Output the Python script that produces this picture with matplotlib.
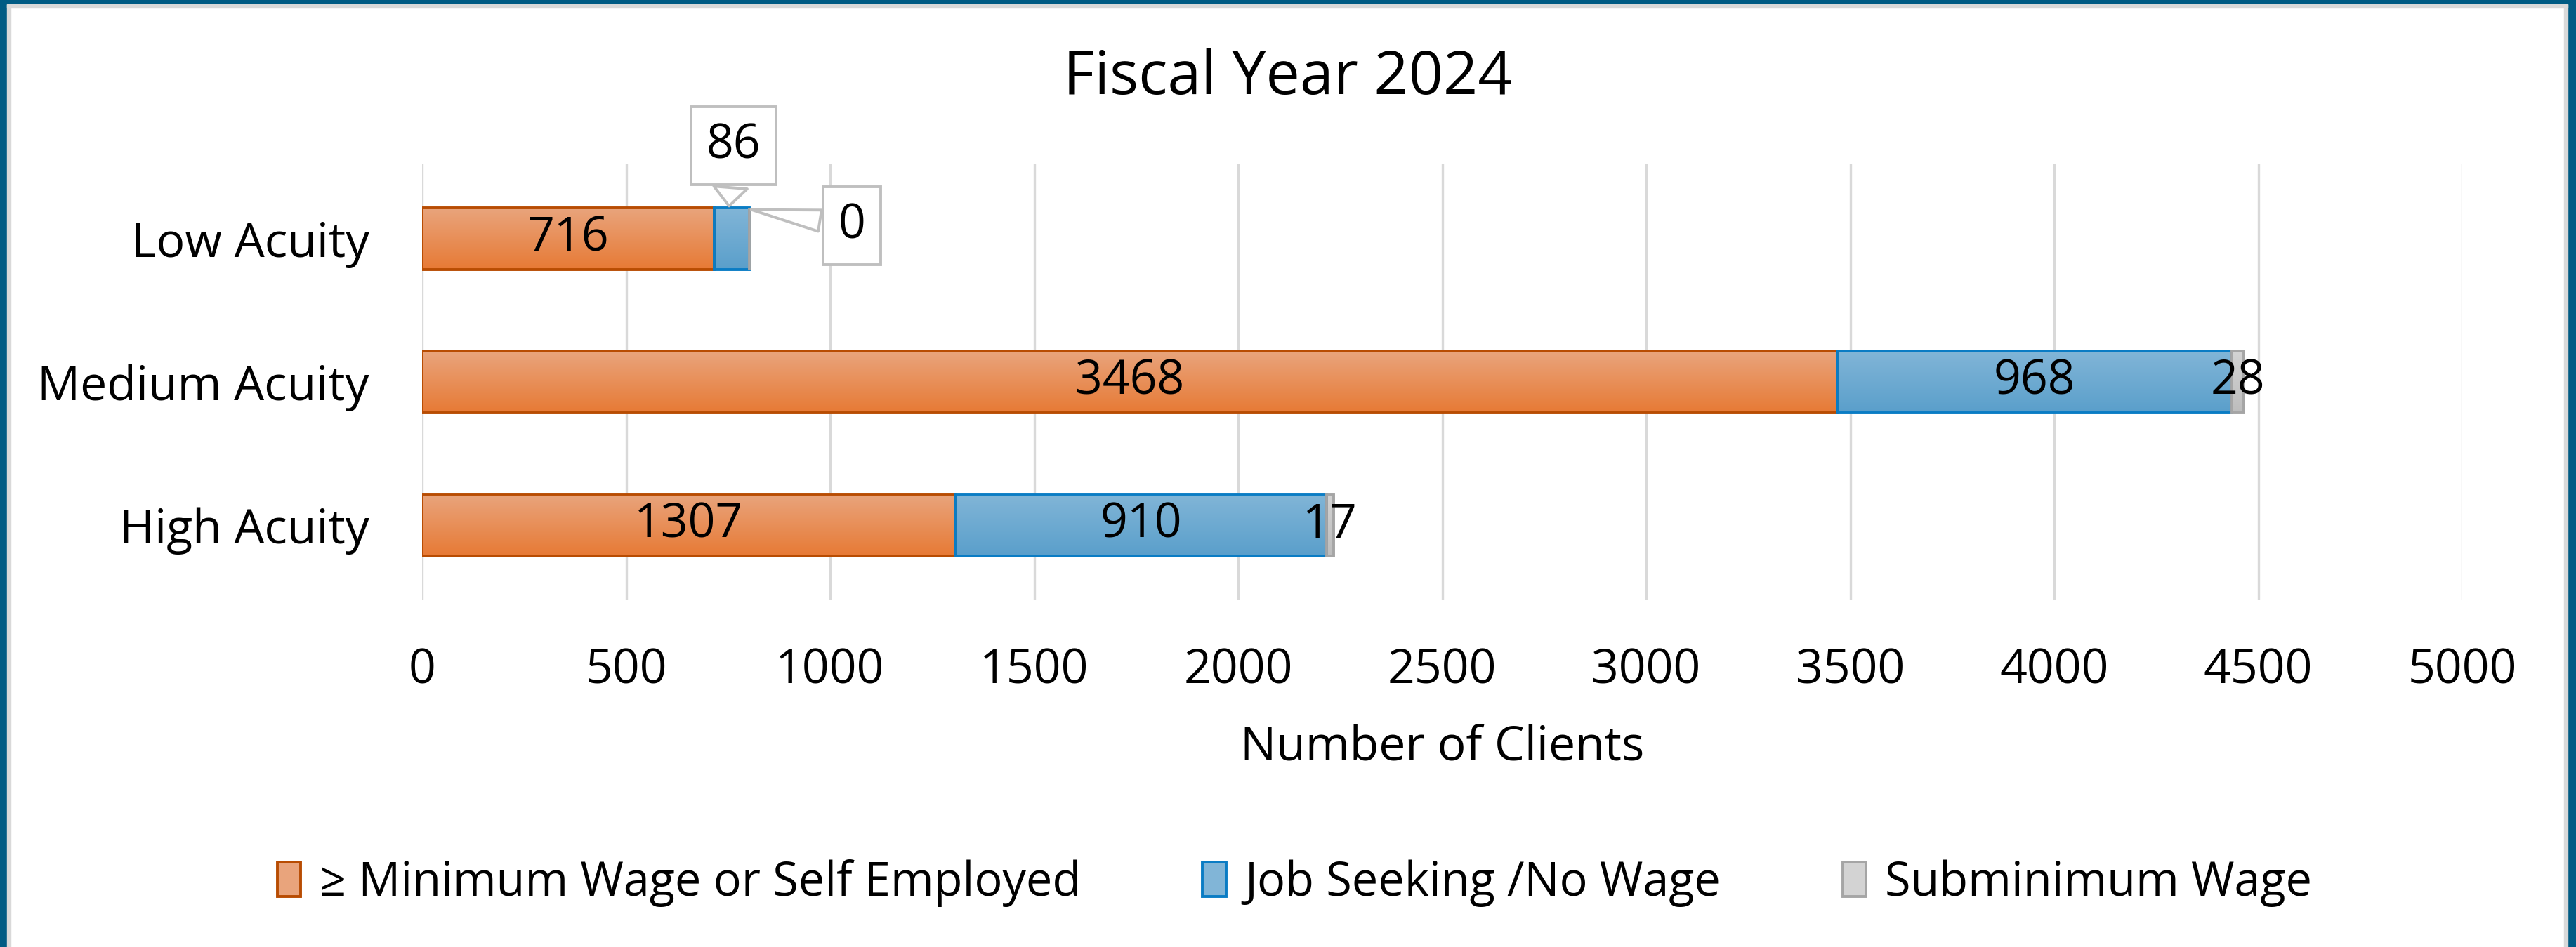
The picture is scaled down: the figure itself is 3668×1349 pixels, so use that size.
import numpy as np
import matplotlib.pyplot as plt
from matplotlib.patches import Rectangle, Patch

# data (bottom to top)
categories = ['High Acuity', 'Medium Acuity', 'Low Acuity']
min_wage = [1307, 3468, 716]
job_seeking = [910, 968, 86]
subminimum = [17, 28, 0]
series_names = ['≥ Minimum Wage or Self Employed', 'Job Seeking /No Wage', 'Subminimum Wage']
x_ticks = [0, 500, 1000, 1500, 2000, 2500, 3000, 3500, 4000, 4500, 5000]

plt.rcParams['font.family'] = ['Open Sans', 'DejaVu Sans']

W, H = 3668, 1349
fig = plt.figure(figsize=(W / 100, H / 100), dpi=100)
ax = fig.add_axes([601 / W, 1 - 854 / H, (3506 - 601) / W, (854 - 234) / H])

# colours: gradient top, gradient bottom, edge
styles = [
    ('#E9A47C', '#E77A35', '#B84C02'),
    ('#81B5D7', '#5A9FCB', '#0A7CC4'),
    ('#D3D3D3', '#BDBDBD', '#A5A5A5'),
]

y = np.arange(len(categories))
bar_h = 0.43
left = np.zeros(len(categories))
series = [min_wage, job_seeking, subminimum]


def gradient_bars(bars, top, bottom):
    c1 = np.array(plt.matplotlib.colors.to_rgb(top))
    c2 = np.array(plt.matplotlib.colors.to_rgb(bottom))
    t = np.linspace(0, 1, 64)[:, None, None]
    img = c1 * (1 - t) + c2 * t
    for b in bars:
        x0, y0 = b.get_x(), b.get_y()
        w, h = b.get_width(), b.get_height()
        if w <= 0:
            continue
        im = ax.imshow(img, extent=[x0, x0 + w, y0, y0 + h], aspect='auto',
                       origin='upper', zorder=2.1, interpolation='bilinear')
        im.set_clip_path(b)


for vals, (top, bottom, edge) in zip(series, styles):
    bars = ax.barh(y, vals, left=left, height=bar_h, color=bottom, zorder=2)
    gradient_bars(bars, top, bottom)
    ax.barh(y, vals, left=left, height=bar_h, fill=False, edgecolor=edge,
            linewidth=2.8, zorder=2.2)
    left = left + np.array(vals)

# data labels
fs = 49
cum = np.zeros(len(categories))
for vals in series:
    for i, v in enumerate(vals):
        if categories[i] != 'Low Acuity':
            ax.text(cum[i] + v / 2, y[i], str(v), ha='center', va='center',
                    fontsize=fs, zorder=5)
    cum = cum + np.array(vals)

# Low Acuity labels as callouts
lo = categories.index('Low Acuity')
ax.text(min_wage[lo] / 2, y[lo], str(min_wage[lo]), ha='center', va='center',
        fontsize=fs, zorder=5)
box = dict(boxstyle='square,pad=0.32', fc='white', ec='#BFBFBF', lw=2.8)
ax.annotate(str(job_seeking[lo]), xy=(752, y[lo] + bar_h / 2),
            xytext=(764, y[lo] + 0.65), ha='center', va='center', fontsize=fs,
            bbox=box, annotation_clip=False, zorder=6,
            arrowprops=dict(arrowstyle='wedge,tail_width=0.7', fc='white',
                            ec='#BFBFBF', lw=2.8))
ax.annotate(str(subminimum[lo]), xy=(min_wage[lo] + job_seeking[lo], y[lo] + bar_h / 2 - 0.01),
            xytext=(1053, y[lo] + 0.09), ha='center', va='center', fontsize=fs,
            bbox=box, annotation_clip=False, zorder=6,
            arrowprops=dict(arrowstyle='wedge,tail_width=0.45', fc='white',
                            ec='#BFBFBF', lw=2.8))

ax.set_xlim(0, 5000)
ax.set_ylim(-0.52, 2.52)
ax.set_xticks(x_ticks)
ax.set_yticks(y)
ax.set_yticklabels(categories)
ax.tick_params(axis='both', length=0, labelsize=fs)
ax.tick_params(axis='x', pad=49)
ax.tick_params(axis='y', pad=54)
for s in ax.spines.values():
    s.set_visible(False)

ax.set_axisbelow(True)
ax.grid(True, axis='x', color='#D9D9D9', linewidth=2.4)
ax.set_xlabel('Number of Clients', fontsize=fs, labelpad=30)

fig.suptitle('Fiscal Year 2024', x=0.5, y=1 - 112 / H, va='center', fontsize=62)

handles = [Patch(facecolor=(st[0]), edgecolor=st[2], linewidth=2.8) for st in styles]
fig.legend(handles, series_names, loc='center', bbox_to_anchor=(0.5025, 1 - 1258 / H),
           ncol=3, frameon=False, fontsize=48, handlelength=0.5, handleheight=0.75,
           handletextpad=0.4, columnspacing=2.6)

# outer frame
tf = fig.transFigure
fig.patches.extend([
    Rectangle((0, 0), 10 / W, 1, transform=tf, color='#005B84'),
    Rectangle((0, 1 - 6 / H), 1, 6 / H, transform=tf, color='#005B84'),
    Rectangle((1 - 12 / W, 0), 12 / W, 1, transform=tf, color='#005B84'),
    Rectangle((10 / W, 0), 5 / W, 1 - 6 / H, transform=tf, color='#D9D9D9'),
    Rectangle((10 / W, 1 - 11 / H), (3656 - 10) / W, 5 / H, transform=tf, color='#D9D9D9'),
    Rectangle((3651 / W, 0), 5 / W, 1 - 6 / H, transform=tf, color='#D9D9D9'),
])

fig.savefig('out.png', dpi=100)
